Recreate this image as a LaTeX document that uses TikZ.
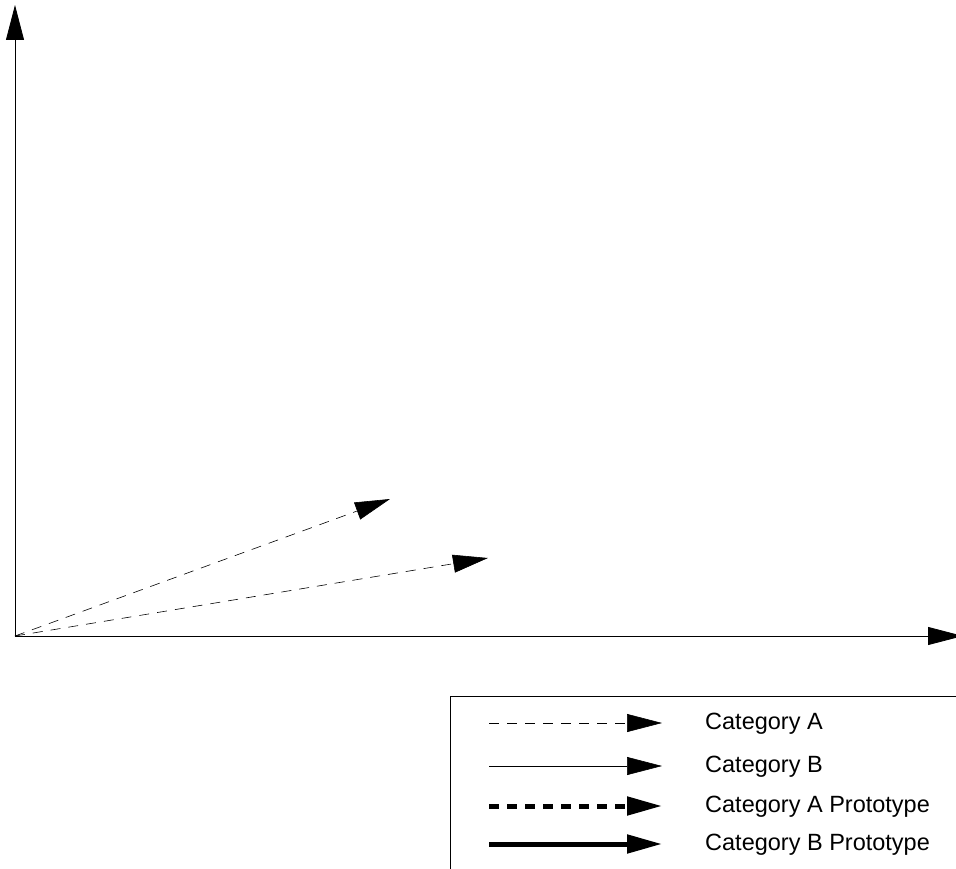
\documentclass[tikz,border=0pt]{standalone}
\usepackage{fontspec}
\setmainfont{Liberation Sans}
\usetikzlibrary{arrows.meta}

\tikzset{
  tip/.style={-{Triangle[length=35pt,width=18pt]}},
  axis/.style={tip,line width=0.8pt},
  catA/.style={tip,line width=0.6pt,dash pattern=on 10pt off 8pt},
  catB/.style={tip,line width=0.6pt},
  protoA/.style={tip,line width=5pt,dash pattern=on 10pt off 8pt},
  protoB/.style={tip,line width=5pt},
  legtext/.style={anchor=west,inner sep=0pt,font=\fontsize{23.5}{26}\selectfont},
}

\begin{document}
\begin{tikzpicture}[line cap=butt,x=1pt,y=-1pt]
        \clip (0,0) rectangle (956,869);
        \coordinate (O) at (15,636);      %origin
        \coordinate (yend) at (15,5);
        \coordinate (xend) at (963,636);
        \draw [axis] (O) -- (yend);
        \draw [axis] (O) -- (xend);
        % sample vectors
        \coordinate (a1) at (390,499);
        \coordinate (a2) at (488,558);
        \draw [catA] (O) -- (a1);
        \draw [catA] (O) -- (a2);
        % legend
        \draw [line width=0.6pt] (450,1000) -- (450,696) -- (1000,696);
        \foreach \s/\y/\t [count=\i] in {catA/723/Category A, catB/766/Category B,
            protoA/806/Category A Prototype, protoB/844/Category B Prototype}
        {
            \coordinate (l\i) at (489,\y);
            \coordinate (r\i) at (662,\y);
            \draw [\s] (l\i) -- (r\i);
            \node [legtext] (t\i) at (705,\y+1) {\t};
        }
    \end{tikzpicture}
\end{document}
